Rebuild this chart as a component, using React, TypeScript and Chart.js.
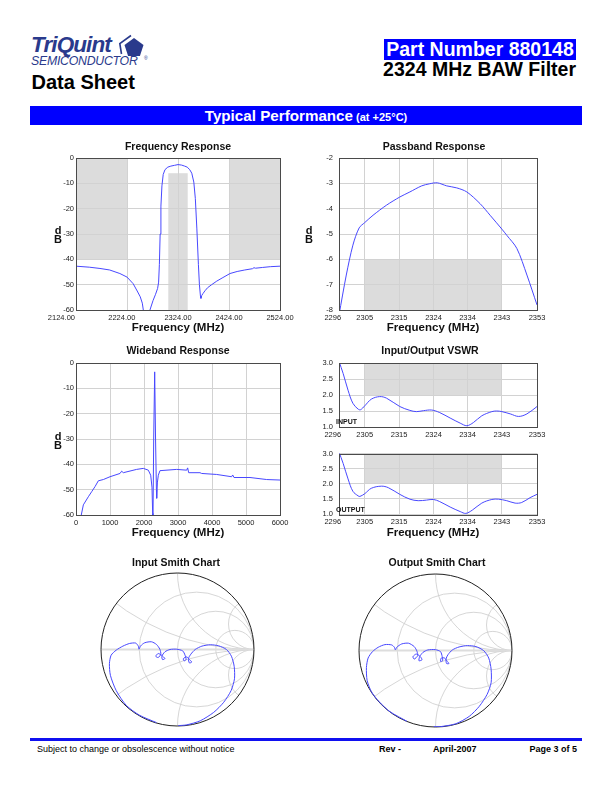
import React, { useEffect, useRef } from 'react';
import { Chart, registerables } from 'chart.js';

Chart.register(...registerables);

const FONT = '"Liberation Sans", Arial, Helvetica, sans-serif';
Chart.defaults.font.family = FONT;

const TRACE = '#4848ff';
const GRID = '#d2d2d2';
const MASK = '#dcdcdc';
const NAVY = '#2a3a8c';

// ---------------- Frequency Response ----------------
const frFreq = [2124, 2150, 2171, 2190, 2210, 2224, 2236, 2244, 2250, 2254, 2256, 2260, 2265, 2269, 2275, 2280, 2284, 2286, 2287.5, 2289, 2290.5, 2292.5, 2295, 2298.5, 2304, 2310, 2317, 2324, 2331, 2337, 2342, 2347, 2351, 2355, 2358, 2361, 2364, 2366, 2368, 2369, 2370.5, 2373, 2377, 2382, 2390, 2400, 2412, 2426, 2440, 2455, 2470, 2473, 2476, 2490, 2505, 2524];
const frDb = [-42.7, -43.1, -43.6, -44.2, -45.6, -47.0, -49.6, -52.5, -54.8, -57.3, -60, -66, -66, -60, -56.3, -53.8, -51.5, -49, -42, -30, -19, -11, -6.5, -4.6, -3.6, -3.2, -2.9, -2.6, -2.8, -3.2, -3.6, -4.6, -6, -9.5, -16, -28, -42, -50, -54.5, -55.4, -54.3, -53.5, -52.4, -51.2, -50.0, -48.6, -47.2, -45.6, -44.8, -44.2, -43.7, -43.3, -43.5, -43.2, -42.9, -42.7];
const frXTicks = [2124, 2224, 2324, 2424, 2524];
const frYTicks = [0, -10, -20, -30, -40, -50, -60];
const frMask = [
  { x0: 2124, x1: 2224, y0: 0, y1: -40 },
  { x0: 2424, x1: 2524, y0: 0, y1: -40 },
  { x0: 2305, x1: 2343, y0: -6, y1: -60 },
];

// ---------------- Passband Response ----------------
const pbFreq = [2296, 2298.1, 2300, 2301.8, 2303.4, 2305.8, 2309.7, 2313.5, 2316.4, 2319.8, 2322, 2324.3, 2327, 2329.9, 2332.8, 2336.6, 2339.5, 2342.9, 2344.3, 2347.2, 2350.1, 2353];
const pbDb = [-8.2, -6.62, -5.44, -4.76, -4.55, -4.26, -3.86, -3.54, -3.34, -3.10, -3.02, -2.98, -3.1, -3.18, -3.34, -3.8, -4.26, -4.81, -5.05, -5.57, -6.62, -7.8];
const bandTickPos = [2296, 2303.4, 2313.3, 2323.2, 2333.0, 2342.9, 2353];
const bandTickLabels = ['2296', '2305', '2315', '2324', '2334', '2343', '2353'];
const pbYTicks = [-2, -3, -4, -5, -6, -7, -8];
const pbMask = [{ x0: 2303.4, x1: 2342.9, y0: -6, y1: -8 }];

// ---------------- Wideband Response ----------------
const wbFreq = [140, 216, 363, 461, 559, 657, 804, 1000, 1294, 1343, 1392, 1784, 1980, 2127, 2197, 2235, 2255, 2262, 2285, 2314, 2340, 2365, 2373, 2395, 2421, 2470, 2961, 3255, 3284, 3314, 3647, 3696, 4137, 4578, 4608, 4647, 5118, 5608, 6000];
const wbDb = [-61, -56, -52.8, -50.8, -48.8, -46.5, -46, -44.9, -43.6, -42.7, -43.3, -42, -41.6, -42.3, -44.3, -49, -59.4, -66, -30, -3.5, -30, -50, -53.4, -47, -44.3, -42.5, -42, -42.3, -41.4, -43.3, -43.3, -43.6, -44, -44.9, -44.2, -45.2, -45.2, -46, -46.2];
const wbXTicks = [0, 1000, 2000, 3000, 4000, 5000, 6000];
const wbYTicks = [0, -10, -20, -30, -40, -50, -60];

// ---------------- VSWR ----------------
const vswrInFreq = [2296, 2297.2, 2298.6, 2300, 2301.5, 2302.2, 2303.4, 2305.3, 2307.7, 2309.7, 2313.5, 2316.4, 2318.3, 2320.3, 2322.7, 2325, 2328, 2330.9, 2332.8, 2334.7, 2337.1, 2340, 2341.4, 2342.9, 2345.3, 2347.7, 2350.1, 2353];
const vswrIn = [3.05, 2.67, 2.15, 1.74, 1.56, 1.54, 1.66, 1.87, 1.95, 1.90, 1.64, 1.52, 1.48, 1.51, 1.53, 1.45, 1.28, 1.12, 1.04, 1.14, 1.35, 1.48, 1.50, 1.48, 1.41, 1.33, 1.41, 1.64];
const vswrOutFreq = [2296, 2297.2, 2298.6, 2300, 2301.5, 2302, 2303.4, 2305.3, 2308.2, 2310.2, 2313.5, 2316.4, 2318.8, 2321.2, 2323.2, 2325, 2328, 2330.9, 2332.5, 2334.4, 2337.1, 2340, 2341.9, 2344.3, 2346.7, 2348.6, 2351, 2353];
const vswrOut = [3.05, 2.67, 2.16, 1.75, 1.60, 1.58, 1.67, 1.85, 1.92, 1.87, 1.65, 1.49, 1.44, 1.46, 1.48, 1.41, 1.23, 1.08, 1.02, 1.13, 1.36, 1.48, 1.49, 1.44, 1.36, 1.38, 1.54, 1.65];
const vswrYTicks = [1.0, 1.5, 2.0, 2.5, 3.0];
const vswrMask = [{ x0: 2303.4, x1: 2342.9, y0: 2.0, y1: 3.0 }];

// ---------------- Smith charts (reflection coefficient) ----------------
const smithR = [1 / 3, 1, 3];
const smithX = [1 / 3, 1, 3];
const smithInRe = [-0.275, -0.495, -0.670, -0.802, -0.877, -0.890, -0.868, -0.802, -0.714, -0.626, -0.547, -0.512, -0.503, -0.481, -0.429, -0.341, -0.275, -0.231, -0.218, -0.253, -0.284, -0.253, -0.209, -0.165, -0.196, -0.204, -0.165, -0.099, -0.011, 0.068, 0.099, 0.112, 0.086, 0.077, 0.121, 0.165, 0.187, 0.156, 0.143, 0.174, 0.231, 0.319, 0.429, 0.538, 0.640, 0.705, 0.741, 0.745, 0.701, 0.604, 0.473, 0.297, 0.121, 0.011];
const smithInIm = [-0.955, -0.860, -0.730, -0.536, -0.338, -0.185, -0.075, -0.009, 0.044, 0.079, 0.084, 0.044, 0.004, 0.048, 0.088, 0.101, 0.066, 0.004, -0.062, -0.105, -0.088, -0.053, -0.075, -0.119, -0.132, -0.088, -0.031, 0.000, 0.004, -0.018, -0.075, -0.132, -0.149, -0.119, -0.097, -0.141, -0.163, -0.176, -0.119, -0.062, 0.000, 0.044, 0.062, 0.048, 0.000, -0.088, -0.220, -0.382, -0.536, -0.690, -0.822, -0.932, -0.985, -0.995];
const smithOutRe = [-0.374, -0.595, -0.736, -0.837, -0.894, -0.903, -0.881, -0.824, -0.749, -0.661, -0.573, -0.537, -0.524, -0.507, -0.441, -0.352, -0.278, -0.242, -0.233, -0.278, -0.295, -0.251, -0.198, -0.176, -0.216, -0.207, -0.163, -0.101, 0.000, 0.066, 0.088, 0.093, 0.066, 0.075, 0.119, 0.154, 0.176, 0.145, 0.137, 0.163, 0.220, 0.308, 0.419, 0.529, 0.630, 0.696, 0.727, 0.727, 0.674, 0.573, 0.441, 0.264, 0.066, -0.022];
const smithOutIm = [-0.925, -0.800, -0.670, -0.540, -0.390, -0.222, -0.099, -0.015, 0.042, 0.077, 0.073, 0.042, 0.007, 0.042, 0.086, 0.095, 0.051, -0.011, -0.068, -0.112, -0.081, -0.046, -0.081, -0.121, -0.134, -0.081, -0.024, 0.007, 0.011, -0.015, -0.081, -0.134, -0.143, -0.099, -0.099, -0.143, -0.170, -0.170, -0.112, -0.055, 0.007, 0.046, 0.064, 0.051, -0.002, -0.099, -0.245, -0.421, -0.575, -0.729, -0.861, -0.958, -0.995, -0.995];

// ---------------- helpers ----------------
const pts = (xs: number[], ys: number[]) => xs.map((x, i) => ({ x, y: ys[i] }));

const lineSet = (xs: number[], ys: number[], tension = 0) => ({
  data: pts(xs, ys),
  showLine: true,
  pointRadius: 0,
  borderColor: TRACE,
  borderWidth: 1,
  tension,
  fill: false,
});

// shift a centred tick label to the left by appending spaces (space ~2.08px at 7.5px)
const shifted = (s: string, px: number) => (px > 0 ? s + ' '.repeat(Math.round(px / 1.04)) : s);

const decoPlugin = {
  id: 'deco',
  beforeDraw(chart: any, _a: any, o: any) {
    const { ctx, scales } = chart;
    ctx.save();
    ctx.fillStyle = '#ffffff';
    ctx.fillRect(0, 0, chart.width, chart.height);
    const boxes = o.boxes || [];
    for (const b of boxes) {
      const x0 = scales.x.getPixelForValue(b.x0);
      const x1 = scales.x.getPixelForValue(b.x1);
      const y0 = scales.y.getPixelForValue(b.y0);
      const y1 = scales.y.getPixelForValue(b.y1);
      ctx.fillStyle = MASK;
      ctx.fillRect(Math.min(x0, x1), Math.min(y0, y1), Math.abs(x1 - x0), Math.abs(y1 - y0));
    }
    ctx.restore();
  },
  afterDraw(chart: any, _a: any, o: any) {
    const { ctx, chartArea: a } = chart;
    const ox = o.ox || 0;
    const oy = o.oy || 0;
    ctx.save();
    if (o.frame) {
      ctx.strokeStyle = '#4a4a4a';
      ctx.lineWidth = 1;
      ctx.strokeRect(Math.round(a.left) + 0.5, Math.round(a.top) + 0.5, Math.round(a.right - a.left), Math.round(a.bottom - a.top));
    }
    ctx.fillStyle = '#111';
    if (o.title) {
      ctx.font = `bold ${o.titleSize || 10.5}px ${FONT}`;
      ctx.textAlign = 'center';
      ctx.textBaseline = 'middle';
      ctx.fillText(o.title, o.titleX - ox, o.titleY - oy);
    }
    if (o.xTitle) {
      ctx.font = `bold 11.5px ${FONT}`;
      ctx.textAlign = 'center';
      ctx.textBaseline = 'middle';
      ctx.fillText(o.xTitle, o.xTitleX - ox, o.xTitleY - oy);
    }
    if (o.db) {
      ctx.font = `bold 11px ${FONT}`;
      ctx.textAlign = 'center';
      ctx.textBaseline = 'alphabetic';
      ctx.fillText('d', o.db.x - ox, o.db.y - oy);
      ctx.fillText('B', o.db.x - ox, o.db.y + 8.5 - oy);
    }
    if (o.tag) {
      ctx.font = `bold 7px ${FONT}`;
      ctx.textAlign = 'left';
      ctx.textBaseline = 'alphabetic';
      ctx.fillText(o.tag.text, o.tag.x - ox, o.tag.y - oy);
    }
    ctx.restore();
  },
};

type XYParams = {
  ox: number; oy: number; w: number; h: number;
  area: [number, number, number, number];
  xr: [number, number]; yr: [number, number];
  xTicks: number[]; xLabel: (v: number, i: number) => string; xShift?: number[];
  yTicks: number[]; yLabel: (v: number, i: number) => string; yPad?: number;
  datasets: any[]; deco: any;
};

function xyConfig(p: XYParams): any {
  const [l, t, r, b] = p.area;
  const tickFont = { size: 7.5, family: FONT };
  const xs = p.xShift || [];
  return {
    type: 'scatter',
    data: { datasets: p.datasets },
    options: {
      responsive: false,
      maintainAspectRatio: false,
      animation: false,
      events: [],
      layout: { padding: { left: 0, top: t - p.oy, right: p.ox + p.w - r, bottom: 0 } },
      plugins: {
        legend: { display: false },
        tooltip: { enabled: false },
        title: { display: false },
        deco: { ...p.deco, ox: p.ox, oy: p.oy },
      },
      scales: {
        x: {
          type: 'linear', min: p.xr[0], max: p.xr[1],
          afterBuildTicks: (s: any) => { s.ticks = p.xTicks.map((v) => ({ value: v })); },
          afterFit: (s: any) => { s.height = p.oy + p.h - b; },
          ticks: { callback: (v: number, i: number) => shifted(p.xLabel(v, i), xs[i] || 0), font: tickFont, color: '#222', padding: 3, autoSkip: false, maxRotation: 0, minRotation: 0 },
          grid: { color: GRID, lineWidth: 1, drawTicks: false },
          border: { display: false },
        },
        y: {
          type: 'linear', min: p.yr[0], max: p.yr[1],
          afterBuildTicks: (s: any) => { s.ticks = p.yTicks.map((v) => ({ value: v })); },
          afterFit: (s: any) => { s.width = l - p.ox; },
          ticks: { callback: (v: number, i: number) => p.yLabel(v, i), font: tickFont, color: '#222', padding: p.yPad ?? 2, autoSkip: false },
          grid: { color: GRID, lineWidth: 1, drawTicks: false },
          border: { display: false },
        },
      },
    },
    plugins: [decoPlugin],
  };
}

const smithPlugin = {
  id: 'smith',
  beforeDatasetsDraw(chart: any) {
    const { ctx, scales } = chart;
    const px = (v: number) => scales.x.getPixelForValue(v);
    const py = (v: number) => scales.y.getPixelForValue(v);
    const R = (px(1) - px(-1)) / 2;
    const cx = px(0);
    const cy = py(0);
    ctx.save();
    ctx.beginPath();
    ctx.arc(cx, cy, R, 0, Math.PI * 2);
    ctx.clip();
    ctx.strokeStyle = '#cccccc';
    ctx.lineWidth = 0.8;
    for (const r of smithR) {
      ctx.beginPath();
      ctx.arc(px(r / (1 + r)), cy, R / (1 + r), 0, Math.PI * 2);
      ctx.stroke();
    }
    for (const xv of smithX) {
      for (const s of [1, -1]) {
        ctx.beginPath();
        ctx.arc(px(1), py(s / xv), R / xv, 0, Math.PI * 2);
        ctx.stroke();
      }
    }
    ctx.strokeStyle = '#dddddd';
    ctx.lineWidth = 2;
    ctx.beginPath();
    ctx.moveTo(px(-1), cy);
    ctx.lineTo(px(1), cy);
    ctx.stroke();
    ctx.restore();
    ctx.save();
    ctx.strokeStyle = '#222';
    ctx.lineWidth = 1;
    ctx.beginPath();
    ctx.arc(cx, cy, R, 0, Math.PI * 2);
    ctx.stroke();
    ctx.restore();
  },
};

function smithConfig(ox: number, oy: number, w: number, h: number, area: [number, number, number, number], re: number[], im: number[], title: string, titleX: number, titleY: number): any {
  const [l, t, r, b] = area;
  return {
    type: 'scatter',
    data: { datasets: [lineSet(re, im, 0.25)] },
    options: {
      responsive: false,
      maintainAspectRatio: false,
      animation: false,
      events: [],
      layout: { padding: { left: l - ox, top: t - oy, right: ox + w - r, bottom: oy + h - b } },
      plugins: {
        legend: { display: false },
        tooltip: { enabled: false },
        deco: { title, titleX, titleY, ox, oy },
      },
      scales: {
        x: { type: 'linear', min: -1, max: 1, display: false },
        y: { type: 'linear', min: -1, max: 1, display: false },
      },
    },
    plugins: [decoPlugin, smithPlugin],
  };
}

function ChartBox({ left, top, width, height, config }: { left: number; top: number; width: number; height: number; config: any }) {
  const ref = useRef<HTMLCanvasElement>(null);
  useEffect(() => {
    const chart = new Chart(ref.current as HTMLCanvasElement, config);
    return () => chart.destroy();
  }, []);
  return (
    <div style={{ position: 'absolute', left, top, width, height }}>
      <canvas ref={ref} width={width} height={height} style={{ width, height, display: 'block' }} />
    </div>
  );
}

const fmt2 = (v: number) => v.toFixed(2);
const fmt0 = (v: number) => String(v);
const fmt1 = (v: number) => v.toFixed(1);
const bandLbl = (_v: number, i: number) => bandTickLabels[i];

export default function App() {
  const fr = xyConfig({
    ox: 30, oy: 135, w: 270, h: 205, area: [76, 158, 280, 310],
    xr: [2124, 2524], yr: [-60, 0], xTicks: frXTicks, xLabel: fmt2, xShift: [15, 5], yTicks: frYTicks, yLabel: fmt0, yPad: 2,
    datasets: [lineSet(frFreq, frDb)],
    deco: { frame: true, boxes: frMask, title: 'Frequency Response', titleX: 178, titleY: 147, xTitle: 'Frequency (MHz)', xTitleX: 178, xTitleY: 328, db: { x: 58, y: 234 } },
  });
  const pb = xyConfig({
    ox: 296, oy: 135, w: 270, h: 205, area: [339, 158, 537, 310],
    xr: [2296, 2353], yr: [-8, -2], xTicks: bandTickPos, xLabel: bandLbl, xShift: [6.5], yTicks: pbYTicks, yLabel: fmt0, yPad: 6,
    datasets: [lineSet(pbFreq, pbDb, 0.3)],
    deco: { frame: true, boxes: pbMask, title: 'Passband Response', titleX: 434, titleY: 147, xTitle: 'Frequency (MHz)', xTitleX: 433, xTitleY: 328, db: { x: 309, y: 234 } },
  });
  const wb = xyConfig({
    ox: 30, oy: 340, w: 270, h: 205, area: [76, 363, 280, 515],
    xr: [0, 6000], yr: [-60, 0], xTicks: wbXTicks, xLabel: fmt0, yTicks: wbYTicks, yLabel: fmt0, yPad: 2,
    datasets: [lineSet(wbFreq, wbDb)],
    deco: { frame: true, title: 'Wideband Response', titleX: 178, titleY: 351, xTitle: 'Frequency (MHz)', xTitleX: 178, xTitleY: 533, db: { x: 58, y: 440 } },
  });
  const vIn = xyConfig({
    ox: 296, oy: 338, w: 270, h: 105, area: [339, 363, 537, 427],
    xr: [2296, 2353], yr: [1, 3], xTicks: bandTickPos, xLabel: bandLbl, xShift: [6.5], yTicks: vswrYTicks, yLabel: fmt1, yPad: 6,
    datasets: [lineSet(vswrInFreq, vswrIn, 0.35)],
    deco: { frame: true, boxes: vswrMask, title: 'Input/Output VSWR', titleX: 430, titleY: 351, tag: { text: 'INPUT', x: 336, y: 424 } },
  });
  const vOut = xyConfig({
    ox: 296, oy: 443, w: 270, h: 99, area: [339, 449, 537, 514],
    xr: [2296, 2353], yr: [1, 3], xTicks: bandTickPos, xLabel: bandLbl, xShift: [6.5], yTicks: vswrYTicks, yLabel: fmt1, yPad: 6,
    datasets: [lineSet(vswrOutFreq, vswrOut, 0.35)],
    deco: { frame: true, boxes: vswrMask, xTitle: 'Frequency (MHz)', xTitleX: 433, xTitleY: 533, tag: { text: 'OUTPUT', x: 336, y: 512 } },
  });
  const sIn = smithConfig(90, 550, 180, 185, [101, 573, 254, 726], smithInRe, smithInIm, 'Input Smith Chart', 176, 563);
  const sOut = smithConfig(350, 550, 180, 185, [359, 574, 512, 727], smithOutRe, smithOutIm, 'Output Smith Chart', 437, 563);

  const abs = (s: React.CSSProperties): React.CSSProperties => ({ position: 'absolute', whiteSpace: 'nowrap', ...s });

  return (
    <div style={{ position: 'absolute', left: 0, top: 0, width: 612, height: 792, background: '#fff', fontFamily: FONT, overflow: 'hidden' }}>
      {/* Logo */}
      <div style={abs({ left: 31, top: 34, fontSize: 22.5, lineHeight: '22px', fontWeight: 'bold', fontStyle: 'italic', color: NAVY, letterSpacing: '-0.9px' })}>TriQuint</div>
      <svg style={{ position: 'absolute', left: 117, top: 33 }} width={34} height={30} viewBox="0 0 34 30">
        <polygon points="17,5 26.5,11.9 22.9,23 11.1,23 7.5,11.9" fill={NAVY} />
        <polyline points="4.5,21 2.8,10.5 14,2.5" fill="none" stroke={NAVY} strokeWidth={1.6} />
        <text x={27} y={27} fontSize={5} fill={NAVY} fontFamily={FONT}>®</text>
      </svg>
      <div style={abs({ left: 31, top: 55, fontSize: 12.3, lineHeight: '12px', fontStyle: 'italic', color: NAVY, letterSpacing: '-0.25px' })}>SEMICONDUCTOR</div>
      <div style={abs({ left: 31.5, top: 72.4, fontSize: 20, lineHeight: '20px', fontWeight: 'bold', color: '#000' })}>Data Sheet</div>

      {/* Title block */}
      <div style={abs({ left: 384, top: 38.5, width: 192, height: 21.5, background: '#0000ff', color: '#fff', fontSize: 19.5, lineHeight: '21.5px', fontWeight: 'bold', textAlign: 'center' })}>Part Number 880148</div>
      <div style={abs({ right: 36, top: 60.2, fontSize: 19.5, lineHeight: '19.5px', fontWeight: 'bold', color: '#000' })}>2324 MHz BAW Filter</div>

      {/* Banner */}
      <div style={abs({ left: 30, top: 106, width: 552, height: 19, background: '#0000ff', color: '#fff', textAlign: 'center', lineHeight: '19px', fontWeight: 'bold' })}>
        <span style={{ fontSize: 15.2 }}>Typical Performance</span>
        <span style={{ fontSize: 11 }}> (at +25°C)</span>
      </div>

      <ChartBox left={30} top={135} width={270} height={205} config={fr} />
      <ChartBox left={296} top={135} width={270} height={205} config={pb} />
      <ChartBox left={30} top={340} width={270} height={205} config={wb} />
      <ChartBox left={296} top={338} width={270} height={105} config={vIn} />
      <ChartBox left={296} top={443} width={270} height={99} config={vOut} />
      <ChartBox left={90} top={550} width={180} height={185} config={sIn} />
      <ChartBox left={350} top={550} width={180} height={185} config={sOut} />

      {/* Footer */}
      <div style={abs({ left: 30, top: 738, width: 552, height: 3, background: '#1010f0' })} />
      <div style={abs({ left: 37, top: 745.4, fontSize: 9, lineHeight: '9px', color: '#000' })}>Subject to change or obsolescence without notice</div>
      <div style={abs({ left: 379, top: 745.4, fontSize: 9, lineHeight: '9px', fontWeight: 'bold', color: '#000' })}>Rev -</div>
      <div style={abs({ left: 433, top: 745.4, fontSize: 9, lineHeight: '9px', fontWeight: 'bold', color: '#000' })}>April-2007</div>
      <div style={abs({ right: 35, top: 745.4, fontSize: 9, lineHeight: '9px', fontWeight: 'bold', color: '#000' })}>Page 3 of 5</div>
    </div>
  );
}
